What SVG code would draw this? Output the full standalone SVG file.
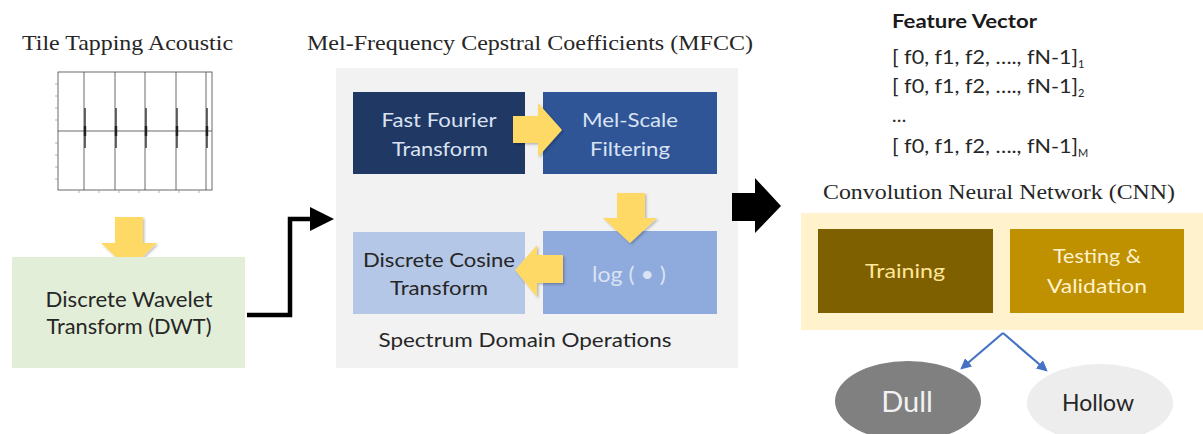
<svg xmlns="http://www.w3.org/2000/svg" width="1203" height="434" viewBox="0 0 1203 434">
<style>
.serif{font-family:"Liberation Serif","Times New Roman",serif;fill:#262626;}
.sans{font-family:Lato,"Open Sans","Liberation Sans",sans-serif;}
.ya{fill:#ffd966;filter:url(#sh);}
.plot{stroke:#444;stroke-width:0.8;fill:none;}
.tick{stroke:#888;stroke-width:0.6;}
</style>
<defs>
<filter id="sh" x="-20%" y="-20%" width="150%" height="150%">
<feDropShadow dx="1.5" dy="1.5" stdDeviation="1.2" flood-color="#000" flood-opacity="0.25"/>
</filter>
<marker id="blueArrow" viewBox="0 0 10 10" refX="8" refY="5" markerWidth="5" markerHeight="5" orient="auto">
<path d="M0,0 L10,5 L0,10 z" fill="#4472c4"/>
</marker>
</defs>
<rect width="1203" height="434" fill="#ffffff"/>

<!-- Left panel -->
<g id="tile-acoustic">
<text class="serif" x="22" y="50" font-size="22" textLength="211" lengthAdjust="spacingAndGlyphs">Tile Tapping Acoustic</text>
<rect class="plot" x="58" y="72" width="154" height="118" stroke="#888"/>
<line class="plot" x1="58" y1="131" x2="212" y2="131" stroke="#555"/>
<g class="plot" stroke="#555">
<line x1="84" y1="72" x2="84" y2="190"/>
<line x1="115" y1="72" x2="115" y2="190"/>
<line x1="145" y1="72" x2="145" y2="190"/>
<line x1="176" y1="72" x2="176" y2="190"/>
<line x1="206" y1="72" x2="206" y2="190"/>
</g>
<g stroke="#444" stroke-width="1.6">
<line x1="85" y1="108" x2="85" y2="148"/>
<line x1="116" y1="108" x2="116" y2="148"/>
<line x1="146" y1="108" x2="146" y2="148"/>
<line x1="177" y1="108" x2="177" y2="148"/>
<line x1="207" y1="108" x2="207" y2="148"/>
</g>
<g stroke="#222" stroke-width="2.4">
<line x1="85" y1="126" x2="85" y2="136"/>
<line x1="116" y1="126" x2="116" y2="136"/>
<line x1="146" y1="126" x2="146" y2="136"/>
<line x1="177" y1="126" x2="177" y2="136"/>
<line x1="207" y1="126" x2="207" y2="136"/>
</g>
<g class="tick">
<line x1="55" y1="84" x2="58" y2="84"/><line x1="55" y1="96" x2="58" y2="96"/><line x1="55" y1="108" x2="58" y2="108"/><line x1="55" y1="120" x2="58" y2="120"/><line x1="55" y1="143" x2="58" y2="143"/><line x1="55" y1="155" x2="58" y2="155"/><line x1="55" y1="167" x2="58" y2="167"/><line x1="55" y1="179" x2="58" y2="179"/>
<line x1="79" y1="190" x2="79" y2="193"/><line x1="99" y1="190" x2="99" y2="193"/><line x1="119" y1="190" x2="119" y2="193"/><line x1="139" y1="190" x2="139" y2="193"/><line x1="159" y1="190" x2="159" y2="193"/><line x1="179" y1="190" x2="179" y2="193"/><line x1="199" y1="190" x2="199" y2="193"/>
</g>
</g>

<polygon class="ya" points="115,217 143,217 143,243 157,243 129,270 101,243 115,243"/>

<g id="dwt">
<rect x="12" y="257" width="233" height="111" fill="#e2eed8"/>
<text class="sans" x="129" y="307" font-size="21" fill="#262626" text-anchor="middle" textLength="167" lengthAdjust="spacingAndGlyphs">Discrete Wavelet</text>
<text class="sans" x="129" y="334" font-size="21" fill="#262626" text-anchor="middle" textLength="165" lengthAdjust="spacingAndGlyphs">Transform (DWT)</text>
</g>

<!-- Middle panel -->
<g id="mfcc">
<text class="serif" x="307" y="50" font-size="22" textLength="446" lengthAdjust="spacingAndGlyphs">Mel-Frequency Cepstral Coefficients (MFCC)</text>
<rect x="336" y="68" width="402" height="300" fill="#f2f2f2"/>
<text class="sans" x="525" y="347" font-size="20" fill="#262626" text-anchor="middle" textLength="293" lengthAdjust="spacingAndGlyphs">Spectrum Domain Operations</text>
</g>

<g id="fft">
<rect x="353" y="92" width="172" height="82" fill="#203864"/>
<text class="sans" x="439" y="127" font-size="20" fill="#dae3f3" text-anchor="middle" textLength="115" lengthAdjust="spacingAndGlyphs">Fast Fourier</text>
<text class="sans" x="440" y="156" font-size="20" fill="#dae3f3" text-anchor="middle" textLength="96" lengthAdjust="spacingAndGlyphs">Transform</text>
</g>
<g id="melscale">
<rect x="543" y="92" width="174" height="82" fill="#2f5597"/>
<text class="sans" x="630" y="127" font-size="20" fill="#dae3f3" text-anchor="middle" textLength="96" lengthAdjust="spacingAndGlyphs">Mel-Scale</text>
<text class="sans" x="630" y="156" font-size="20" fill="#dae3f3" text-anchor="middle" textLength="80" lengthAdjust="spacingAndGlyphs">Filtering</text>
</g>
<g id="log">
<rect x="543" y="231" width="174" height="83" fill="#8faadc"/>
<text class="sans" x="629" y="282" font-size="21" fill="#dae3f3" text-anchor="middle" textLength="74" lengthAdjust="spacingAndGlyphs">log ( • )</text>
</g>
<g id="dct">
<rect x="353" y="232" width="172" height="82" fill="#b4c7e7"/>
<text class="sans" x="439" y="267" font-size="20" fill="#262626" text-anchor="middle" textLength="152" lengthAdjust="spacingAndGlyphs">Discrete Cosine</text>
<text class="sans" x="439" y="295" font-size="20" fill="#262626" text-anchor="middle" textLength="98" lengthAdjust="spacingAndGlyphs">Transform</text>
</g>

<!-- Right panel -->
<g id="feature-vector">
<text class="sans" x="892" y="28" font-size="18" font-weight="bold" fill="#1a1a1a" textLength="145" lengthAdjust="spacingAndGlyphs">Feature Vector</text>
<text class="sans" x="892" y="64" font-size="19" fill="#262626"><tspan textLength="186" lengthAdjust="spacingAndGlyphs">[ f0, f1, f2, …., fN-1]</tspan><tspan font-size="11" dy="4">1</tspan></text>
<text class="sans" x="892" y="93" font-size="19" fill="#262626"><tspan textLength="186" lengthAdjust="spacingAndGlyphs">[ f0, f1, f2, …., fN-1]</tspan><tspan font-size="11" dy="4">2</tspan></text>
<text class="sans" x="892" y="122" font-size="19" fill="#262626">…</text>
<text class="sans" x="892" y="153" font-size="19" fill="#262626"><tspan textLength="186" lengthAdjust="spacingAndGlyphs">[ f0, f1, f2, …., fN-1]</tspan><tspan font-size="11" dy="4">M</tspan></text>
</g>

<g id="cnn">
<text class="serif" x="823" y="199" font-size="22" textLength="352" lengthAdjust="spacingAndGlyphs">Convolution Neural Network (CNN)</text>
<rect x="801" y="213" width="402" height="117" fill="#fff2cc"/>
</g>
<g id="training">
<rect x="818" y="229" width="175" height="84" fill="#7f6000"/>
<text class="sans" x="905" y="278" font-size="20" fill="#ffe699" text-anchor="middle" textLength="80" lengthAdjust="spacingAndGlyphs">Training</text>
</g>
<g id="testing">
<rect x="1010" y="229" width="174" height="84" fill="#bf9000"/>
<text class="sans" x="1097" y="263" font-size="20" fill="#fff2cc" text-anchor="middle" textLength="88" lengthAdjust="spacingAndGlyphs">Testing &amp;</text>
<text class="sans" x="1097" y="293" font-size="20" fill="#fff2cc" text-anchor="middle" textLength="100" lengthAdjust="spacingAndGlyphs">Validation</text>
</g>

<g id="dull">
<ellipse cx="908" cy="401" rx="73" ry="40" fill="#808080"/>
<text class="sans" x="907" y="412" font-size="29" fill="#f2f2f2" text-anchor="middle">Dull</text>
</g>
<g id="hollow">
<ellipse cx="1100" cy="403" rx="73" ry="39" fill="#ededed"/>
<text class="sans" x="1098" y="411" font-size="23" fill="#262626" text-anchor="middle">Hollow</text>
</g>

<!-- Yellow process arrows -->
<polygon class="ya" points="513,116 538,116 538,103 562,130 538,157 538,143 513,143"/>
<polygon class="ya" points="617,193 645,193 645,218 657,218 630,243 603,218 617,218"/>
<polygon class="ya" points="563,255 537,255 537,245 515,270 537,297 537,283 563,283"/>

<!-- Connectors -->
<g id="connectors">
<path d="M247,315 H290 V219 H312" fill="none" stroke="#000" stroke-width="4.5"/>
<polygon points="310,207 334,219 310,231" fill="#000"/>
<polygon points="732,193 755,193 755,178 781,206 755,233 755,221 732,221" fill="#000"/>
<path d="M1003,333 L962,368" fill="none" stroke="#4472c4" stroke-width="2.2" marker-end="url(#blueArrow)"/>
<path d="M1003,333 L1046,370" fill="none" stroke="#4472c4" stroke-width="2.2" marker-end="url(#blueArrow)"/>
</g>
</svg>
